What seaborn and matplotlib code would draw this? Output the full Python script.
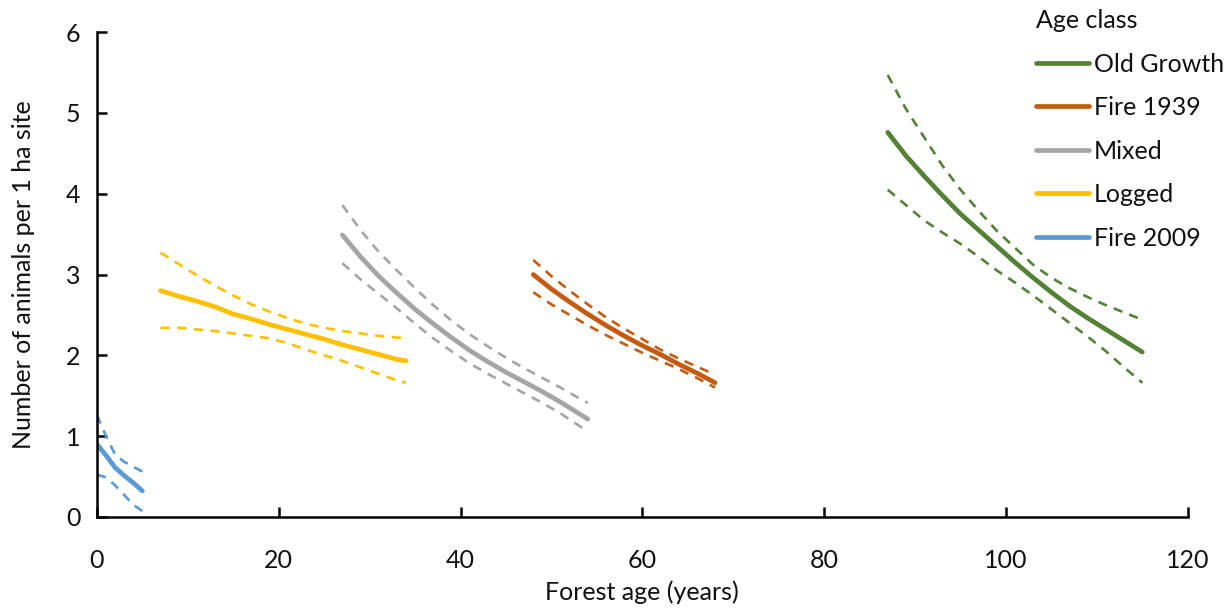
import matplotlib
matplotlib.use("Agg")
import matplotlib.pyplot as plt
from matplotlib.lines import Line2D
import pandas as pd
import seaborn as sns

# Fitted abundance (mean) with upper/lower confidence limits per age class
fire2009_age = [0, 1, 2, 3, 4, 5]
fire2009_mean = [0.90, 0.76, 0.61, 0.51, 0.42, 0.32]
fire2009_upper = [1.26, 1.00, 0.77, 0.68, 0.62, 0.56]
fire2009_lower = [0.52, 0.49, 0.39, 0.27, 0.15, 0.07]

logged_age = [7, 9, 11, 13, 15, 17, 19, 21, 23, 25, 27, 29, 31, 33, 34]
logged_mean = [2.80, 2.73, 2.67, 2.60, 2.51, 2.45, 2.38, 2.32, 2.26, 2.20, 2.13, 2.07, 2.01, 1.95, 1.93]
logged_upper = [3.27, 3.13, 2.99, 2.86, 2.74, 2.63, 2.54, 2.46, 2.39, 2.34, 2.30, 2.27, 2.24, 2.22, 2.21]
logged_lower = [2.34, 2.34, 2.32, 2.30, 2.27, 2.24, 2.21, 2.15, 2.07, 2.00, 1.93, 1.85, 1.77, 1.69, 1.66]

mixed_age = [27, 29, 31, 33, 35, 37, 39, 41, 43, 45, 47, 49, 51, 53, 54]
mixed_mean = [3.49, 3.22, 2.98, 2.77, 2.57, 2.39, 2.22, 2.06, 1.92, 1.79, 1.67, 1.55, 1.42, 1.28, 1.21]
mixed_upper = [3.86, 3.55, 3.28, 3.05, 2.83, 2.62, 2.43, 2.26, 2.11, 1.97, 1.84, 1.72, 1.60, 1.47, 1.41]
mixed_lower = [3.14, 2.94, 2.76, 2.58, 2.39, 2.21, 2.05, 1.90, 1.77, 1.65, 1.53, 1.41, 1.28, 1.13, 1.06]

fire1939_age = [48, 50, 52, 54, 56, 58, 60, 62, 64, 66, 68]
fire1939_mean = [3.00, 2.82, 2.66, 2.51, 2.37, 2.24, 2.12, 2.01, 1.89, 1.78, 1.66]
fire1939_upper = [3.18, 2.98, 2.80, 2.63, 2.47, 2.33, 2.20, 2.07, 1.96, 1.86, 1.76]
fire1939_lower = [2.78, 2.63, 2.50, 2.37, 2.25, 2.14, 2.03, 1.93, 1.83, 1.72, 1.60]

oldgrowth_age = [87, 89, 91, 93, 95, 97, 99, 101, 103, 105, 107, 109, 111, 113, 115]
oldgrowth_mean = [4.76, 4.47, 4.22, 3.98, 3.75, 3.55, 3.35, 3.15, 2.96, 2.78, 2.61, 2.46, 2.32, 2.18, 2.04]
oldgrowth_upper = [5.47, 5.05, 4.70, 4.35, 4.05, 3.79, 3.54, 3.33, 3.12, 2.96, 2.83, 2.72, 2.62, 2.53, 2.44]
oldgrowth_lower = [4.05, 3.86, 3.67, 3.52, 3.38, 3.22, 3.05, 2.90, 2.74, 2.57, 2.40, 2.23, 2.05, 1.85, 1.66]

classes = ["Old Growth", "Fire 1939", "Mixed", "Logged", "Fire 2009"]
colors = {
    "Old Growth": "#548235",
    "Fire 1939": "#C55A11",
    "Mixed": "#A5A5A5",
    "Logged": "#FFC000",
    "Fire 2009": "#5B9BD5",
}

series = {
    "Old Growth": (oldgrowth_age, oldgrowth_mean, oldgrowth_upper, oldgrowth_lower),
    "Fire 1939": (fire1939_age, fire1939_mean, fire1939_upper, fire1939_lower),
    "Mixed": (mixed_age, mixed_mean, mixed_upper, mixed_lower),
    "Logged": (logged_age, logged_mean, logged_upper, logged_lower),
    "Fire 2009": (fire2009_age, fire2009_mean, fire2009_upper, fire2009_lower),
}

rows = []
for name, (age, mean, upper, lower) in series.items():
    for kind, vals in (("mean", mean), ("upper", upper), ("lower", lower)):
        for a, v in zip(age, vals):
            rows.append({"age": a, "value": v, "cls": name, "kind": kind})
df = pd.DataFrame(rows)

sns.set_theme(style="white")
plt.rcParams["font.family"] = ["Lato", "DejaVu Sans"]

FS = 18
fig = plt.figure(figsize=(12.27, 6.08), dpi=100)
ax = fig.add_axes([0.079, 0.150, 0.889, 0.797])

for name in classes:
    sub = df[df["cls"] == name]
    for kind in ("upper", "lower"):
        part = sub[sub["kind"] == kind]
        sns.lineplot(data=part, x="age", y="value", ax=ax, color=colors[name],
                     linewidth=1.9, legend=False, estimator=None)
        ax.lines[-1].set_dashes((3.5, 2.8))
    part = sub[sub["kind"] == "mean"]
    sns.lineplot(data=part, x="age", y="value", ax=ax, color=colors[name],
                 linewidth=3.4, legend=False, estimator=None,
                 solid_capstyle="round", solid_joinstyle="round")

ax.set_xlim(0, 120)
ax.set_ylim(0, 6)
ax.set_xticks(range(0, 121, 20))
ax.set_yticks(range(0, 7))
ax.set_xlabel("Forest age (years)", fontsize=FS, color="#111111", labelpad=6)
ax.set_ylabel("Number of animals per 1 ha site", fontsize=FS, color="#111111", labelpad=22)
ax.tick_params(axis="both", direction="in", length=7, width=1.8, color="black",
               labelsize=FS, labelcolor="#111111", left=True, bottom=True)
ax.tick_params(axis="x", pad=23)
ax.tick_params(axis="y", pad=12)

for side in ("top", "right"):
    ax.spines[side].set_visible(False)
for side in ("left", "bottom"):
    ax.spines[side].set_color("black")
    ax.spines[side].set_linewidth(1.8)

handles = [Line2D([0], [0], color=colors[n], linewidth=3.4) for n in classes]
leg = fig.legend(handles, classes, title="Age class", loc="upper left",
                 bbox_to_anchor=(0.8445, 0.985), frameon=False, fontsize=FS,
                 title_fontsize=FS, handlelength=2.1, handletextpad=0.22,
                 labelspacing=0.82, borderpad=0, borderaxespad=0)
leg._legend_box.align = "left"
for t in leg.get_texts():
    t.set_color("#111111")
leg.get_title().set_color("#111111")

fig.savefig("out.png", dpi=100)
